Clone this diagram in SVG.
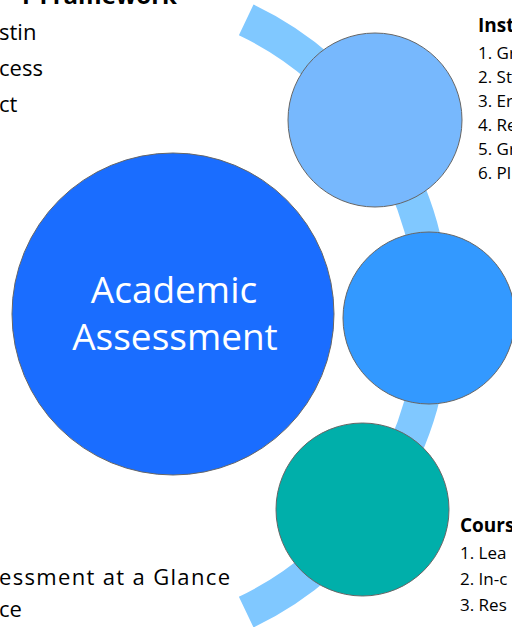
<svg xmlns="http://www.w3.org/2000/svg" width="512" height="627" viewBox="0 0 512 627">
<style>
.t{font-family:"Open Sans","Liberation Sans",sans-serif;fill:#000}
.b{font-weight:bold}
.node{stroke:#666;stroke-width:1}
.lbl{font-family:"Open Sans","Liberation Sans",sans-serif;fill:#fff;font-size:37px}
</style>
<rect width="512" height="627" fill="#fff"/>
<g id="connectors">
<path d="M 246.2 19.9 A 328 328 0 0 1 246.2 612.1" fill="none" stroke="#80C8FF" stroke-width="34"/>
</g>
<g id="node-academic">
<circle class="node" cx="173" cy="314" r="161" fill="#1A6DFF"/>
<text class="lbl" x="174" y="303" text-anchor="middle">Academic</text>
<text class="lbl" x="175" y="350" text-anchor="middle">Assessment</text>
</g>
<g id="node-top"><circle class="node" cx="375" cy="120" r="87" fill="#77B8FD"/></g>
<g id="node-middle"><circle class="node" cx="429" cy="318" r="86" fill="#3399FF"/></g>
<g id="node-bottom"><circle class="node" cx="362.5" cy="509.5" r="86.5" fill="#00AFAA"/></g>
<g id="left-text">
<text class="t b" x="177" y="4" font-size="24" text-anchor="end">r Framework</text>
<text class="t" x="-1" y="40" font-size="22">stin</text>
<text class="t" x="-1" y="76" font-size="22">cess</text>
<text class="t" x="-1" y="112" font-size="22">ct</text>
<text class="t" x="-1" y="585" font-size="22" textLength="231">essment at a Glance</text>
<text class="t" x="-1" y="617" font-size="22">ce</text>
</g>
<g id="right-text-top">
<text class="t b" x="478" y="32" font-size="19">Inst</text>
<text class="t" x="478" y="59" font-size="17">1. Gr</text>
<text class="t" x="478" y="83" font-size="17">2. St</text>
<text class="t" x="478" y="107" font-size="17">3. Er</text>
<text class="t" x="478" y="131" font-size="17">4. Re</text>
<text class="t" x="478" y="155" font-size="17">5. Gr</text>
<text class="t" x="478" y="179" font-size="17">6. Pl</text>
</g>
<g id="right-text-bottom">
<text class="t b" x="460" y="532" font-size="19">Cours</text>
<text class="t" x="460" y="559" font-size="17">1. Lea</text>
<text class="t" x="460" y="585" font-size="17">2. In-c</text>
<text class="t" x="460" y="611" font-size="17">3. Res</text>
</g>
</svg>
